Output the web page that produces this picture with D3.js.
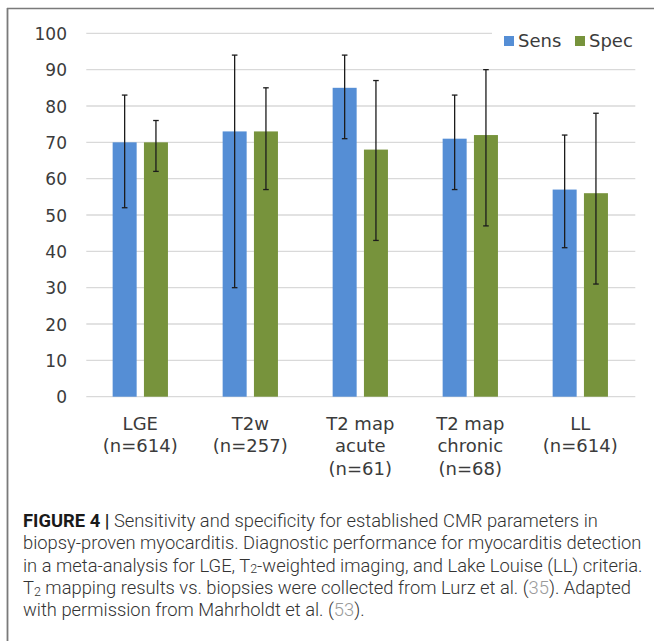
<!DOCTYPE html>
<html>
<head>
<meta charset="utf-8">
<script src="https://cdn.jsdelivr.net/npm/d3@7"></script>
<style>
  html, body { margin: 0; padding: 0; background: #fff; }
  svg { display: block; }
</style>
</head>
<body>
<svg id="chart" width="654" height="641"></svg>
<script>
// Categories (multi-line labels) and series
const categories = ["LGE", "T2w", "T2 map acute", "T2 map chronic", "LL"];
const categoryLines = [
  ["LGE", "(n=614)"],
  ["T2w", "(n=257)"],
  ["T2 map", "acute", "(n=61)"],
  ["T2 map", "chronic", "(n=68)"],
  ["LL", "(n=614)"]
];
const seriesNames = ["Sens", "Spec"];
const sensValues = [70, 73, 85, 71, 57];
const specValues = [70, 73, 68, 72, 56];
const sensLow  = [52, 30, 71, 57, 41];
const sensHigh = [83, 94, 94, 83, 72];
const specLow  = [62, 57, 43, 47, 31];
const specHigh = [76, 85, 87, 90, 78];
const yTicks = [0, 10, 20, 30, 40, 50, 60, 70, 80, 90, 100];
const colors = { Sens: "#558ED5", Spec: "#77933C" };

const rows = categories.map((c, i) => ({
  category: c,
  values: [
    { key: "Sens", value: sensValues[i], lo: sensLow[i], hi: sensHigh[i] },
    { key: "Spec", value: specValues[i], lo: specLow[i], hi: specHigh[i] }
  ]
}));

const svg = d3.select("#chart");

// Partial frame: top and left rules
svg.append("line").attr("x1", 7).attr("x2", 654).attr("y1", 8.5).attr("y2", 8.5)
  .attr("stroke", "#7a7a7a").attr("stroke-width", 1.6);
svg.append("line").attr("x1", 7.5).attr("x2", 7.5).attr("y1", 8).attr("y2", 641)
  .attr("stroke", "#7a7a7a").attr("stroke-width", 1.8);

const plotLeft = 85.3, plotRight = 635.3, plotTop = 33.3, plotBottom = 396.7;

const x0 = d3.scaleBand().domain(categories).range([plotLeft, plotRight]).padding(0);
const half = 27.65;
const x1 = d3.scaleBand().domain(seriesNames)
  .range([x0.bandwidth() / 2 - half, x0.bandwidth() / 2 + half])
  .paddingInner(0.233).paddingOuter(0);
const y = d3.scaleLinear().domain([0, 100]).range([plotBottom, plotTop]);

const chartFont = "'DejaVu Sans', Verdana, sans-serif";
const textColor = "#3b3b3b";

// Gridlines (the top one stops short of the legend)
svg.append("g").selectAll("line").data(yTicks).join("line")
  .attr("x1", plotLeft + 1)
  .attr("x2", d => d === 100 ? 492 : plotRight)
  .attr("y1", d => y(d)).attr("y2", d => y(d))
  .attr("stroke", "#d9d9d9").attr("stroke-width", 1.3);

// Y axis labels
const yAxis = d3.axisLeft(y).tickValues(yTicks).tickSize(0).tickPadding(0);
const gy = svg.append("g").attr("transform", "translate(67,0)").call(yAxis);
gy.select(".domain").remove();
gy.selectAll("text")
  .attr("font-family", chartFont).attr("font-size", 17)
  .attr("fill", textColor).attr("dy", "0.36em");

// Bars
const groups = svg.append("g").selectAll("g").data(rows).join("g")
  .attr("transform", d => `translate(${x0(d.category)},0)`);

groups.selectAll("rect").data(d => d.values).join("rect")
  .attr("x", d => x1(d.key))
  .attr("width", x1.bandwidth())
  .attr("y", d => y(d.value))
  .attr("height", d => y(0) - y(d.value))
  .attr("fill", d => colors[d.key]);

// Error bars
const capHalf = 2.8;
const err = groups.selectAll("g.err").data(d => d.values).join("g").attr("class", "err")
  .attr("transform", d => `translate(${x1(d.key) + x1.bandwidth() / 2},0)`);
err.append("line").attr("x1", 0).attr("x2", 0)
  .attr("y1", d => y(d.lo)).attr("y2", d => y(d.hi))
  .attr("stroke", "#1c1c1c").attr("stroke-width", 1.3);
err.append("line").attr("x1", -capHalf).attr("x2", capHalf)
  .attr("y1", d => y(d.hi)).attr("y2", d => y(d.hi))
  .attr("stroke", "#1c1c1c").attr("stroke-width", 1.3);
err.append("line").attr("x1", -capHalf).attr("x2", capHalf)
  .attr("y1", d => y(d.lo)).attr("y2", d => y(d.lo))
  .attr("stroke", "#1c1c1c").attr("stroke-width", 1.3);

// Category labels
const xl = svg.append("g").selectAll("text").data(categories).join("text")
  .attr("x", d => x0(d) + x0.bandwidth() / 2)
  .attr("y", 430)
  .attr("text-anchor", "middle")
  .attr("font-family", chartFont).attr("font-size", 18)
  .attr("fill", textColor);
xl.selectAll("tspan").data((d, i) => categoryLines[i]).join("tspan")
  .attr("x", function () { return d3.select(this.parentNode).attr("x"); })
  .attr("dy", (d, i) => i === 0 ? 0 : 22.3)
  .text(d => d);

// Legend
const legendItems = [
  { key: "Sens", sx: 504, tx: 518 },
  { key: "Spec", sx: 575, tx: 589 }
];
const lg = svg.append("g");
lg.selectAll("rect").data(legendItems).join("rect")
  .attr("x", d => d.sx).attr("y", 36).attr("width", 10).attr("height", 10)
  .attr("fill", d => colors[d.key]);
lg.selectAll("text").data(legendItems).join("text")
  .attr("x", d => d.tx).attr("y", 46.5)
  .attr("font-family", chartFont).attr("font-size", 18)
  .attr("fill", textColor).text(d => d.key);

// Figure caption
const capFont = "Roboto, 'Liberation Sans', Arial, sans-serif";
const capColor = "#333";
const refColor = "#9a9a9a";
const captionLines = [
  [{ t: "FIGURE 4 | ", b: true }, { t: "Sensitivity and specificity for established CMR parameters in" }],
  [{ t: "biopsy-proven myocarditis. Diagnostic performance for myocarditis detection" }],
  [{ t: "in a meta-analysis for LGE, T" }, { t: "2", sub: true }, { t: "-weighted imaging, and Lake Louise (LL) criteria." }],
  [{ t: "T" }, { t: "2", sub: true }, { t: " mapping results vs. biopsies were collected from Lurz et al. (" }, { t: "35", ref: true }, { t: "). Adapted" }],
  [{ t: "with permission from Mahrholdt et al. (" }, { t: "53", ref: true }, { t: ")." }]
];
const capBase = 527, capStep = 22.3, capLeft = 23, capFullWidth = 620;
const cap = svg.append("g");

function drawCaption(size) {
  cap.selectAll("*").remove();
  const sub = size * 0.68, shift = size * 0.1;
  return captionLines.map((parts, i) => {
    const t = cap.append("text")
      .attr("x", capLeft).attr("y", capBase + i * capStep)
      .attr("font-family", capFont).attr("font-size", size)
      .attr("font-weight", 300)
      .attr("fill", capColor)
      .attr("xml:space", "preserve");
    parts.forEach((p, j) => {
      const s = t.append("tspan").text(p.t);
      if (p.b) s.attr("font-weight", "bold").attr("fill", "#1a1a1a");
      if (p.ref) s.attr("fill", refColor);
      if (p.sub) s.attr("font-size", sub).attr("dy", shift);
      const prev = parts[j - 1];
      if (prev && prev.sub && !p.sub) s.attr("dy", -shift);
    });
    return t;
  });
}

// Size the caption so the third (longest) line spans the text block width
const probe = drawCaption(17);
const w = probe[2].node().getComputedTextLength();
drawCaption(17 * capFullWidth / w);
</script>
</body>
</html>
